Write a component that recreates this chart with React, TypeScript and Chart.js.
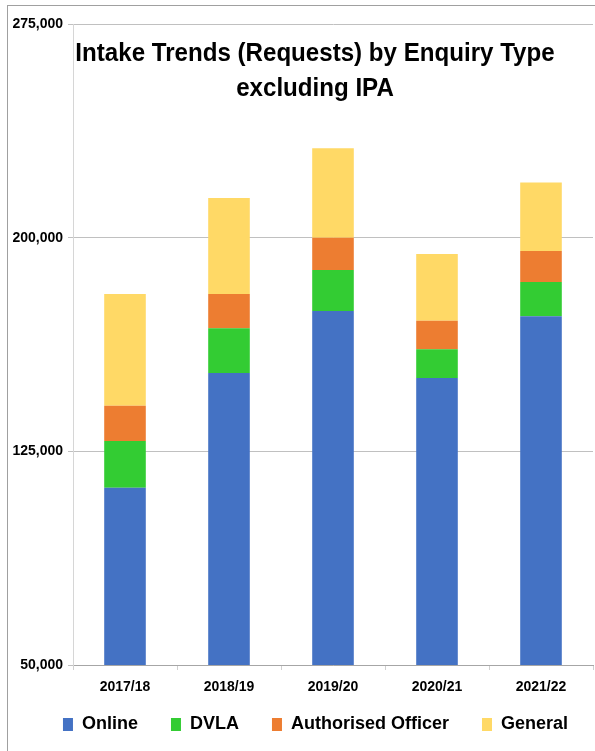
import React, { useEffect, useRef } from "react";
import { Chart, registerables } from "chart.js";

Chart.register(...registerables);

const categories = ["2017/18", "2018/19", "2019/20", "2020/21", "2021/22"];
const onlineValues = [112200, 152500, 174300, 150700, 172400];
const dvlaValues = [16400, 15700, 14350, 10100, 12000];
const authorisedOfficerValues = [12400, 12000, 11350, 10000, 10900];
const generalValues = [39200, 33700, 31400, 23500, 24100];
const seriesNames = ["Online", "DVLA", "Authorised Officer", "General"];
const seriesColors = ["#4472C4", "#33CC33", "#ED7D31", "#FFD966"];
const titleLines = ["Intake Trends (Requests) by Enquiry Type", "excluding IPA"];
const yMin = 50000;
const yMax = 275000;
const yStep = 75000;

const FONT = "'Liberation Sans', Arial, sans-serif";

const framePlugin = {
  id: "frame",
  beforeDraw(chart: any) {
    const ctx = chart.ctx;
    ctx.save();
    ctx.strokeStyle = "#A0A0A0";
    ctx.lineWidth = 1;
    ctx.beginPath();
    ctx.moveTo(7, 5.5);
    ctx.lineTo(chart.width, 5.5);
    ctx.moveTo(7.5, 5);
    ctx.lineTo(7.5, chart.height);
    ctx.stroke();
    ctx.restore();
  },
};

const legendShiftPlugin = {
  id: "legendShift",
  afterLayout(chart: any) {
    const lg = chart.legend;
    if (!lg) return;
    const dx = 19;
    const dy = -21.5;
    lg.left += dx;
    lg.right += dx;
    lg.top += dy;
    lg.bottom += dy;
  },
};

const innerTitlePlugin = {
  id: "innerTitle",
  afterDraw(chart: any) {
    const ctx = chart.ctx;
    const sx = 0.91;
    ctx.save();
    ctx.scale(sx, 1);
    ctx.fillStyle = "#000000";
    ctx.font = `bold 26.5px ${FONT}`;
    ctx.textAlign = "center";
    ctx.textBaseline = "alphabetic";
    ctx.fillText(titleLines[0], 315 / sx, 61);
    ctx.fillText(titleLines[1], 315 / sx, 96);
    ctx.restore();
  },
};

export default function App() {
  const canvasRef = useRef<HTMLCanvasElement | null>(null);

  useEffect(() => {
    if (!canvasRef.current) return;
    const seriesValues = [onlineValues, dvlaValues, authorisedOfficerValues, generalValues];
    const chart = new Chart(canvasRef.current, {
      type: "bar",
      data: {
        labels: categories,
        datasets: seriesNames.map((name, i) => ({
          label: name,
          data: seriesValues[i],
          backgroundColor: seriesColors[i],
          borderWidth: 0,
          barPercentage: 0.4,
          categoryPercentage: 1,
        })),
      },
      options: {
        animation: false,
        responsive: false,
        devicePixelRatio: 1,
        layout: { padding: { left: 0, right: 2, top: 24, bottom: -14 } },
        plugins: {
          title: { display: false },
          tooltip: { enabled: false },
          legend: {
            position: "bottom",
            labels: {
              boxWidth: 10,
              boxHeight: 13,
              padding: 33,
              color: "#000000",
              font: { family: FONT, size: 18, weight: "bold" },
            },
          },
        },
        scales: {
          x: {
            stacked: true,
            afterFit: (scale: any) => {
              scale.height = 39;
            },
            grid: {
              display: true,
              drawOnChartArea: false,
              drawTicks: true,
              tickLength: 5,
              color: "#D0D0D0",
            },
            border: { display: true, color: "#A6A6A6" },
            ticks: {
              color: "#000000",
              padding: 9,
              font: { family: FONT, size: 14, weight: "bold" },
            },
          },
          y: {
            stacked: true,
            min: yMin,
            max: yMax,
            afterFit: (scale: any) => {
              scale.width = 73;
            },
            grid: {
              color: "#C0C0C0",
              tickLength: 5,
              drawTicks: true,
            },
            border: { display: true, color: "#D6D6D6" },
            ticks: {
              stepSize: yStep,
              color: "#000000",
              padding: 5,
              font: { family: FONT, size: 14, weight: "bold" },
              callback: (v: any) => Number(v).toLocaleString("en-US"),
            },
          },
        },
      },
      plugins: [framePlugin, legendShiftPlugin, innerTitlePlugin],
    });
    return () => chart.destroy();
  }, []);

  return (
    <div style={{ position: "absolute", left: 0, top: 0, width: 595, height: 751, background: "#ffffff" }}>
      <canvas ref={canvasRef} width={595} height={751} style={{ display: "block", width: 595, height: 751 }} />
    </div>
  );
}
